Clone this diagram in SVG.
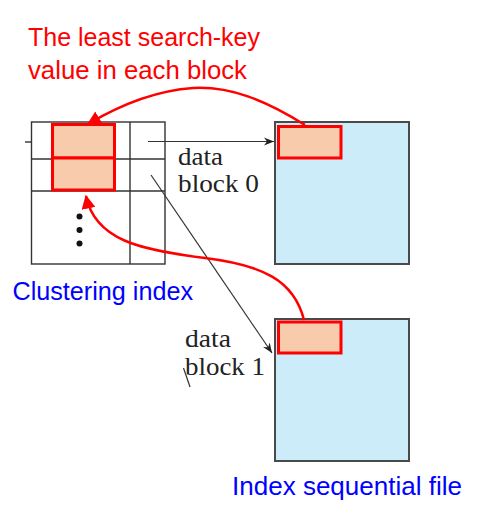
<svg xmlns="http://www.w3.org/2000/svg" width="482" height="514" viewBox="0 0 482 514">
<defs>
<style>
.grid{fill:none;stroke:#333;stroke-width:1.4}
.blk{fill:#CCECF9;stroke:#4a4a4a;stroke-width:2}
.key{fill:#F8CBAD;stroke:#FF0000;stroke-width:3}
.ptr{fill:none;stroke:#333;stroke-width:1.2}
.red{fill:none;stroke:#FF0000;stroke-width:2.5}
.serif{font-family:"Liberation Serif","DejaVu Serif",serif;font-size:25px;fill:#222}
.lbl{font-family:"Liberation Sans",Arial,sans-serif;font-size:25px}
</style>
<marker id="ah" viewBox="0 0 10 10" refX="10" refY="5" markerWidth="10" markerHeight="10" markerUnits="userSpaceOnUse" orient="auto">
<path d="M0,1 L10,5 L0,9 L3,5 Z" fill="#222"/>
</marker>
<marker id="rh" viewBox="0 0 10 10" refX="9" refY="5" markerWidth="14" markerHeight="14" markerUnits="userSpaceOnUse" orient="auto">
<path d="M0,0 L10,5 L0,10 Z" fill="#FF0000"/>
</marker>
</defs>

<g id="index">
<rect class="grid" x="31.5" y="122" width="133.5" height="142"/>
<line class="grid" x1="130" y1="122" x2="130" y2="264"/>
<line class="grid" x1="31.5" y1="159" x2="165" y2="159"/>
<line class="grid" x1="31.5" y1="191" x2="165" y2="191"/>
<line class="grid" x1="25" y1="142" x2="31" y2="142"/>
<rect class="key" x="52.5" y="124.5" width="62" height="33.5"/>
<rect class="key" x="52.5" y="158" width="62" height="32"/>
<circle cx="79.5" cy="216.5" r="3" fill="#111"/>
<circle cx="79.5" cy="230" r="3" fill="#111"/>
<circle cx="79.5" cy="243.5" r="3" fill="#111"/>
</g>

<g id="block0">
<rect class="blk" x="275" y="122" width="134" height="142"/>
<rect class="key" x="278.5" y="126.5" width="62.5" height="31.5"/>
<text class="serif" x="178" y="165" textLength="45" lengthAdjust="spacingAndGlyphs">data</text>
<text class="serif" x="178" y="192" textLength="81" lengthAdjust="spacingAndGlyphs">block 0</text>
</g>

<g id="block1">
<rect class="blk" x="275" y="319" width="134" height="142"/>
<rect class="key" x="278.5" y="322" width="62.5" height="31"/>
<text class="serif" x="185" y="347" textLength="46" lengthAdjust="spacingAndGlyphs">data</text>
<text class="serif" x="185" y="375" textLength="80" lengthAdjust="spacingAndGlyphs">block 1</text>
<line class="ptr" x1="183.5" y1="368" x2="190" y2="387"/>
</g>

<g id="connectors">
<line class="ptr" x1="148" y1="141.5" x2="274" y2="141.5" marker-end="url(#ah)"/>
<line class="ptr" x1="151" y1="175" x2="272" y2="353" marker-end="url(#ah)"/>
<path class="red" d="M305,125 C265,100 230,86 193,88 C150,91 115,108 88,124" marker-end="url(#rh)"/>
<path class="red" d="M304,320 C294,280 262,265 205,258 C140,250 95,240 86,196" marker-end="url(#rh)"/>
</g>

<g id="labels">
<text class="lbl" x="28" y="46" fill="#FF0000" textLength="232" lengthAdjust="spacingAndGlyphs">The least search-key</text>
<text class="lbl" x="28" y="79" fill="#FF0000" textLength="219" lengthAdjust="spacingAndGlyphs">value in each block</text>
<text class="lbl" x="12.5" y="299.5" fill="#0000FF" textLength="180.5" lengthAdjust="spacingAndGlyphs">Clustering index</text>
<text class="lbl" x="232" y="495" fill="#0000FF" textLength="230" lengthAdjust="spacingAndGlyphs">Index sequential file</text>
</g>
</svg>
